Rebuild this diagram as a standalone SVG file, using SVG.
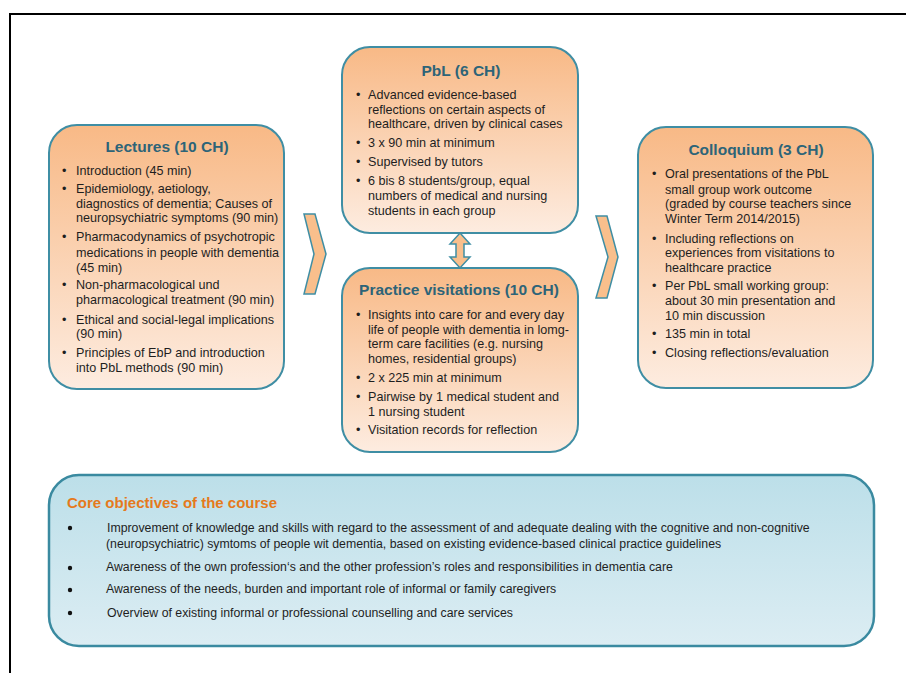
<svg xmlns="http://www.w3.org/2000/svg" width="906" height="673" viewBox="0 0 906 673">
<defs>
<linearGradient id="og" x1="0" y1="0" x2="0" y2="1">
<stop offset="0" stop-color="#f8b986"/>
<stop offset="1" stop-color="#fdece0"/>
</linearGradient>
<linearGradient id="bg" x1="0" y1="0" x2="0" y2="1">
<stop offset="0" stop-color="#bcdfe9"/>
<stop offset="1" stop-color="#dcedf3"/>
</linearGradient>
<style>
.box{fill:url(#og);stroke:#3f8ea4;stroke-width:2}
.obj{fill:url(#bg);stroke:#3a8aa0;stroke-width:2.5}
.shape{fill:#f9bf8c;stroke:#3f8ea4;stroke-width:1.5;stroke-linejoin:miter}
.t{font-family:"Liberation Sans",Arial,sans-serif;font-weight:bold;font-size:15.5px;fill:#2d6478;text-anchor:middle}
.i{font-family:"Liberation Sans",Arial,sans-serif;font-size:12.6px;fill:#1e1e1e}
.o{font-family:"Liberation Sans",Arial,sans-serif;font-size:12.3px;fill:#1e1e1e}
.ot{font-family:"Liberation Sans",Arial,sans-serif;font-weight:bold;font-size:15px;fill:#e57a1c}
</style>
</defs>
<rect x="10" y="14" width="920" height="700" fill="none" stroke="#000" stroke-width="2"/>

<g id="connectors">
<polygon class="shape" points="304,214 315,214 326,254 315,294 304,294 314,254"/>
<polygon class="shape" points="596,216 607,216 618,257 607,298 596,298 608,257"/>
<polygon class="shape" points="460,233 470,244 464,244 464,257 470,257 460,268 450,257 456,257 456,244 450,244"/>
</g>

<g id="lectures">
<rect class="box" x="49" y="125" width="235" height="264" rx="28"/>
<text class="t" x="167" y="152">Lectures (10 CH)</text>
<g class="i">
<text x="62" y="175">•</text><text x="76" y="175">Introduction (45 min)</text>
<text x="62" y="193">•</text><text x="76" y="193">Epidemiology, aetiology,</text>
<text x="76" y="208">diagnostics of dementia; Causes of</text>
<text x="76" y="222">neuropsychiatric symptoms (90 min)</text>
<text x="62" y="241">•</text><text x="76" y="241">Pharmacodynamics of psychotropic</text>
<text x="76" y="257">medications in people with dementia</text>
<text x="76" y="272">(45 min)</text>
<text x="62" y="289">•</text><text x="76" y="289">Non-pharmacological und</text>
<text x="76" y="304">pharmacological treatment (90 min)</text>
<text x="62" y="324">•</text><text x="76" y="324">Ethical and social-legal implications</text>
<text x="76" y="338">(90 min)</text>
<text x="62" y="357">•</text><text x="76" y="357">Principles of EbP and introduction</text>
<text x="76" y="372">into PbL methods (90 min)</text>
</g>
</g>

<g id="pbl">
<rect class="box" x="342" y="47" width="236" height="186" rx="28"/>
<text class="t" x="461" y="76">PbL (6 CH)</text>
<g class="i">
<text x="356" y="99">•</text><text x="368" y="99">Advanced evidence-based</text>
<text x="368" y="114">reflections on certain aspects of</text>
<text x="368" y="128">healthcare, driven by clinical cases</text>
<text x="356" y="147">•</text><text x="368" y="147">3 x 90 min at minimum</text>
<text x="356" y="166">•</text><text x="368" y="166">Supervised by tutors</text>
<text x="356" y="185">•</text><text x="368" y="185">6 bis 8 students/group, equal</text>
<text x="368" y="200">numbers of medical and nursing</text>
<text x="368" y="215">students in each group</text>
</g>
</g>

<g id="practice">
<rect class="box" x="342" y="268" width="236" height="184" rx="28"/>
<text class="t" x="459" y="295">Practice visitations (10 CH)</text>
<g class="i">
<text x="356" y="319">•</text><text x="368" y="319">Insights into care for and every day</text>
<text x="368" y="334">life of people with dementia in lomg-</text>
<text x="368" y="348">term care facilities (e.g. nursing</text>
<text x="368" y="363">homes, residential groups)</text>
<text x="356" y="382">•</text><text x="368" y="382">2 x 225 min at minimum</text>
<text x="356" y="401">•</text><text x="368" y="401">Pairwise by 1 medical student and</text>
<text x="368" y="416">1 nursing student</text>
<text x="356" y="434">•</text><text x="368" y="434">Visitation records for reflection</text>
</g>
</g>

<g id="colloquium">
<rect class="box" x="638" y="127" width="235" height="261" rx="28"/>
<text class="t" x="756" y="155">Colloquium (3 CH)</text>
<g class="i">
<text x="652" y="178">•</text><text x="665" y="178">Oral presentations of the PbL</text>
<text x="665" y="194">small group work outcome</text>
<text x="665" y="208">(graded by course teachers since</text>
<text x="665" y="223">Winter Term 2014/2015)</text>
<text x="652" y="243">•</text><text x="665" y="243">Including reflections on</text>
<text x="665" y="257">experiences from visitations to</text>
<text x="665" y="272">healthcare practice</text>
<text x="652" y="290">•</text><text x="665" y="290">Per PbL small working group:</text>
<text x="665" y="305">about 30 min presentation and</text>
<text x="665" y="320">10 min discussion</text>
<text x="652" y="338">•</text><text x="665" y="338">135 min in total</text>
<text x="652" y="357">•</text><text x="665" y="357">Closing reflections/evaluation</text>
</g>
</g>

<g id="objectives">
<rect class="obj" x="49" y="475" width="825" height="171" rx="30"/>
<text class="ot" x="67" y="508">Core objectives of the course</text>
<g fill="#111">
<circle cx="70" cy="528" r="2.2"/>
<circle cx="70" cy="568" r="2.2"/>
<circle cx="70" cy="590" r="2.2"/>
<circle cx="70" cy="613" r="2.2"/>
</g>
<g class="o">
<text x="107" y="532">Improvement of knowledge and skills with regard to the assessment of and adequate dealing with the cognitive and non-cognitive</text>
<text x="106" y="548">(neuropsychiatric) symtoms of people wit dementia, based on existing evidence-based clinical practice guidelines</text>
<text x="106" y="571">Awareness of the own profession‘s and the other profession’s roles and responsibilities in dementia care</text>
<text x="106" y="593">Awareness of the needs, burden and important role of informal or family caregivers</text>
<text x="107" y="617">Overview of existing informal or professional counselling and care services</text>
</g>
</g>
</svg>
